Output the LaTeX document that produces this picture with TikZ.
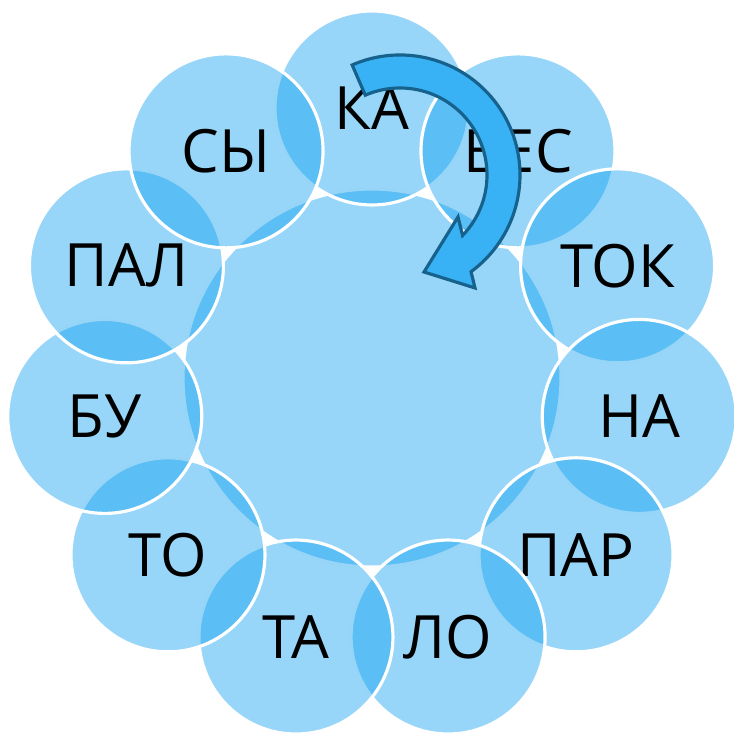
\documentclass[tikz,border=0pt]{standalone}
\usepackage{fontspec}
\setmainfont{Open Sans}
\usetikzlibrary{calc}
\definecolor{rblue}{RGB}{7,157,238}
\definecolor{afill}{RGB}{56,178,245}
\definecolor{aline}{RGB}{22,98,140}

\begin{document}
\begin{tikzpicture}[
    ring/.style={circle, fill=rblue, fill opacity=0.42, text opacity=1,
      draw=white, line width=0.9pt, minimum size=1.94cm, inner sep=0pt,
      font=\fontsize{17pt}{20pt}\selectfont}
  ]
    \useasboundingbox (0, 0) rectangle (7.34, 7.34);
    \coordinate (mid) at (3.72, 3.56);

    \node [ring, minimum size=3.78cm] (hub) at (mid) {};
    \foreach \word [count=\i from 0] in {КА, ВЕС, ТОК, НА, ПАР, ЛО, ТА, ТО, БУ, ПАЛ, СЫ}
      \node [ring] (w\i) at ($(mid) + ({90 - \i*360/11}:2.70)$) {\word};

    % turning arrow
    \coordinate (ac) at (4.00, 5.59);
    \coordinate (barb1) at (4.75, 4.46);
    \coordinate (tip) at (4.24, 4.62);
    \coordinate (barb2) at (4.58, 5.17);
    \filldraw [fill=afill, draw=aline, line width=0.9pt, line join=miter]
      ([shift={(113.5:1.2)}]ac) arc [start angle=113.5, end angle=-53.7, radius=1.2]
      -- (barb1) -- (tip) -- (barb2)
      -- ([shift={(-44:0.87)}]ac) arc [start angle=-44, end angle=113.5, radius=0.87]
      -- cycle;
  \end{tikzpicture}
\end{document}
